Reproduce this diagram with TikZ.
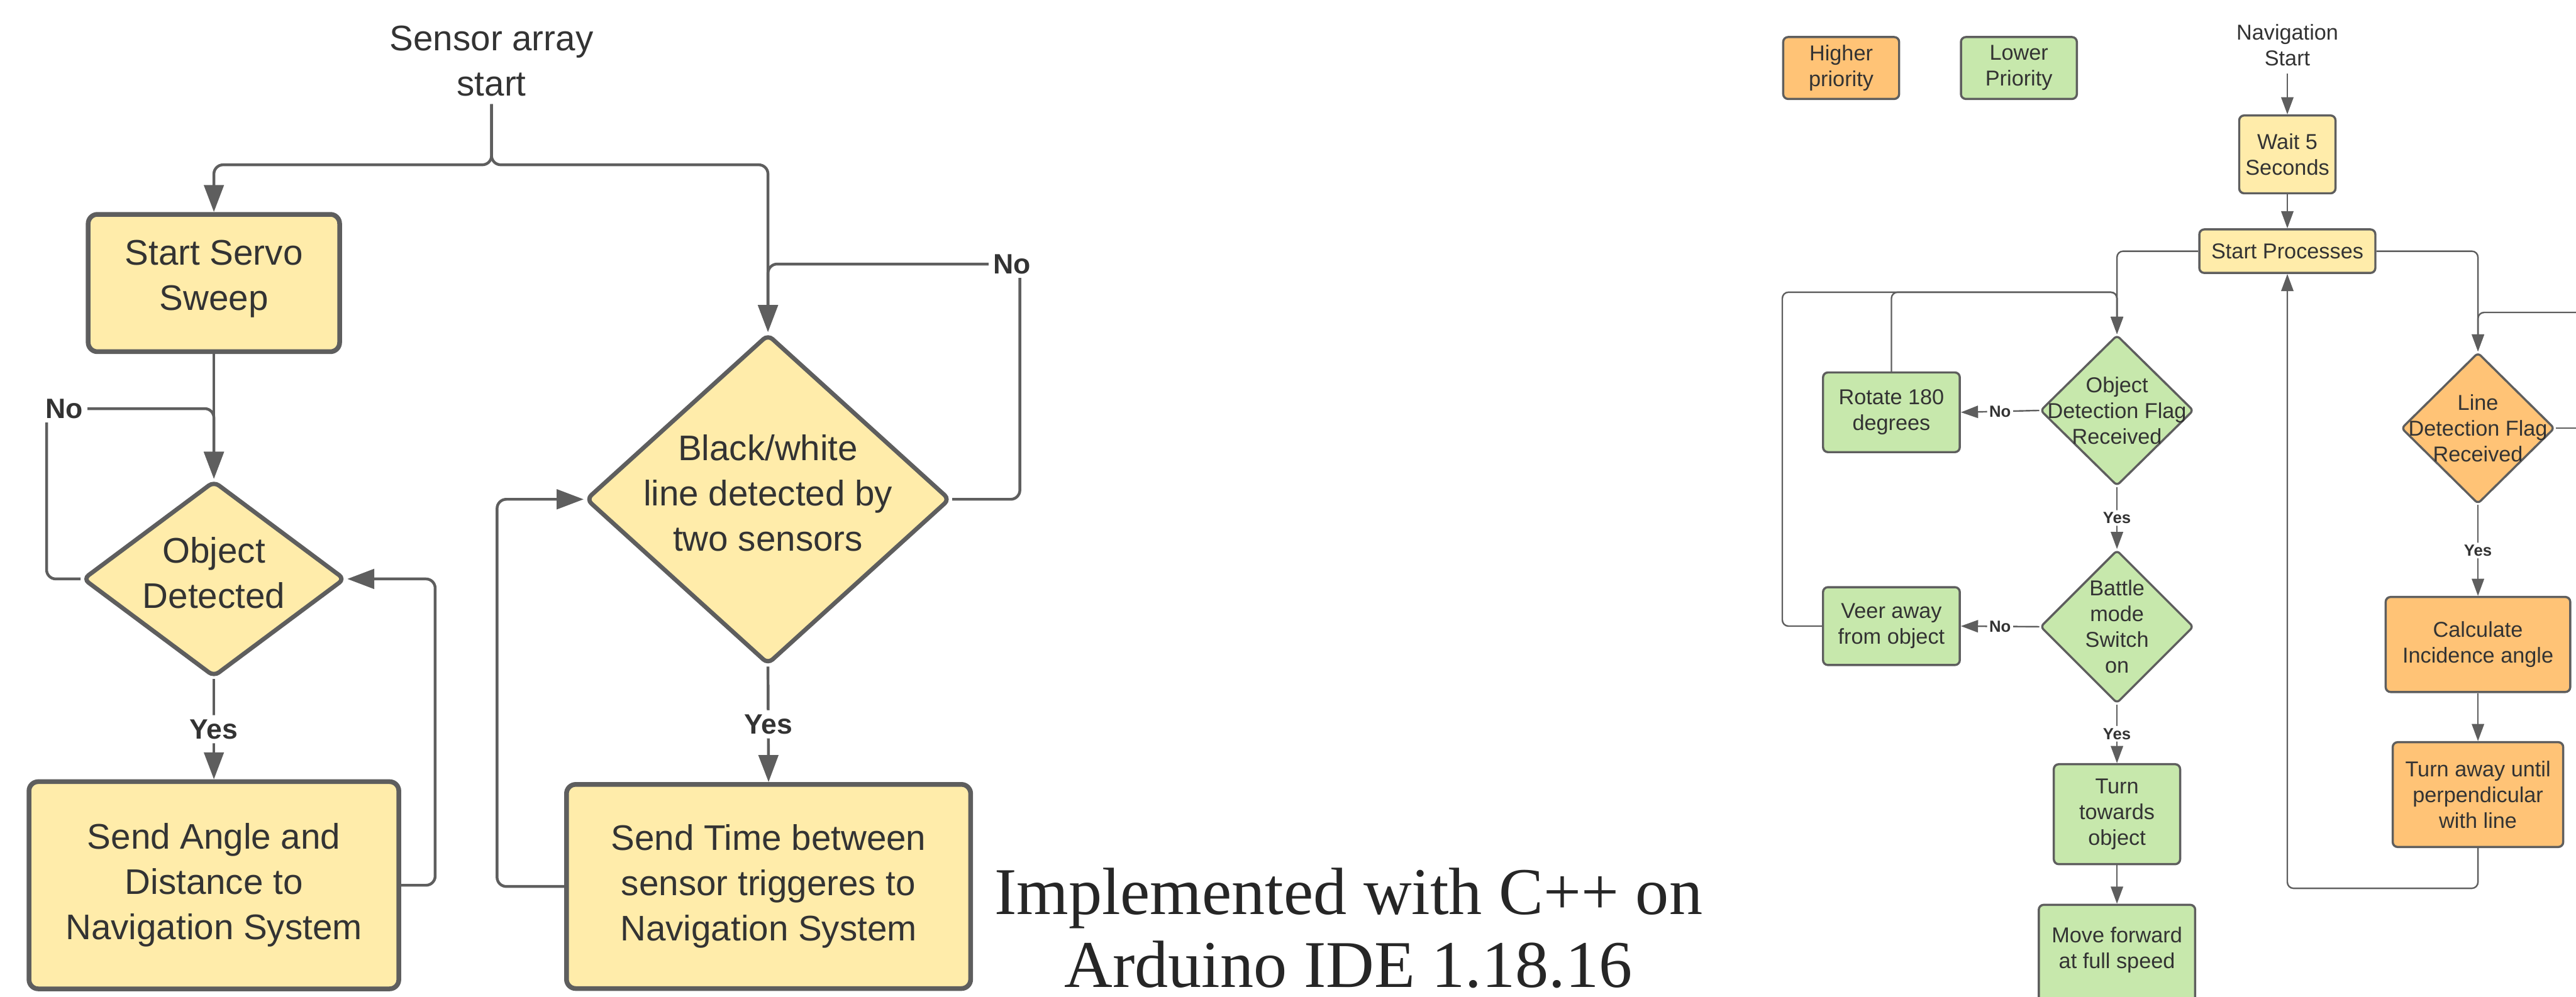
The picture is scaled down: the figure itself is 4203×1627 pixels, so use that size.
\documentclass[tikz,border=0pt]{standalone}
\usepackage{fontspec}
\setmainfont{Liberation Sans}
\newfontfamily\notefont{Liberation Serif}
\usetikzlibrary{shapes.geometric,arrows.meta}
\definecolor{lucyellow}{RGB}{255,236,170}
\definecolor{lucorange}{RGB}{255,195,118}
\definecolor{lucgreen}{RGB}{199,232,172}
\definecolor{lucline}{RGB}{94,94,94}
\definecolor{luctext}{RGB}{51,51,51}

\begin{document}
\begin{tikzpicture}[x=0.01cm,y=-0.01cm,
  ltext/.style={text=luctext,align=center,font=\fontsize{16.5}{21}\selectfont},
  lbox/.style={ltext,draw=lucline,line width=2.2pt,rounded corners=0.15cm,fill=lucyellow,inner sep=0pt},
  ldia/.style={diamond,draw=lucline,line width=2pt,rounded corners=0.1cm,fill=lucyellow,inner sep=0pt},
  lwire/.style={draw=lucline,line width=1.3pt,rounded corners=0.15cm},
  lflow/.style={lwire,-{Triangle[length=0.44cm,width=0.32cm]}},
  llab/.style={fill=white,text=luctext,inner sep=2pt,font=\bfseries\fontsize{13}{15}\selectfont},
  rtext/.style={text=luctext,align=center,font=\fontsize{10}{12}\selectfont},
  rbox/.style={rtext,draw=lucline,line width=1pt,rounded corners=0.08cm,inner sep=0pt},
  rdia/.style={diamond,draw=lucline,line width=1pt,rounded corners=0.06cm,inner sep=0pt},
  rwire/.style={draw=lucline,line width=0.7pt,rounded corners=0.1cm},
  rflow/.style={rwire,-{Triangle[length=0.28cm,width=0.2cm]}},
  rlab/.style={fill=white,text=luctext,inner sep=1pt,font=\bfseries\fontsize{7.5}{9}\selectfont}]
\useasboundingbox (0,0) rectangle (4203,1627);
\clip (0,0) rectangle (4203,1627);

% sensor array
\node[ltext] (sensstart) at (802,100) {Sensor array\\start};
\node[lbox,minimum width=4.1cm,minimum height=2.24cm,label={[ltext,yshift=0.07cm]center:Start Servo\\Sweep}] (servo) at (349,462) {};
\node[ldia,minimum width=4.28cm,minimum height=3.2cm,label={[ltext,yshift=0.1cm]center:Object\\Detected}] (objdet) at (349,945) {};
\node[lbox,minimum width=6.03cm,minimum height=3.38cm] (angle) at (349,1445) {Send Angle and\\Distance to\\Navigation System};
\node[ldia,minimum width=5.94cm,minimum height=5.39cm,label={[ltext,yshift=0.1cm]center:Black/white\\line detected by\\two sensors}] (bw) at (1253,815) {};
\node[lbox,minimum width=6.59cm,minimum height=3.33cm] (time) at (1254,1447) {Send Time between\\sensor triggeres to\\Navigation System};
\coordinate (fork) at (802,269);
\coordinate (objloop) at (76,667);
\coordinate (angleloop) at (710,945);
\coordinate (bwloop) at (1664,431);
\coordinate (timeloop) at (811,815);
\draw[lflow] (sensstart.south) -- (fork) -| (servo.north);
\draw[lflow] (sensstart.south) -- (fork) -| (bw.north);
\draw[lflow] (servo) -- (objdet);
\draw[lflow] (objdet.west) -| (objloop) -| (objdet.north);
\node[llab] (objno) at (105,667) {No};
\draw[lflow] (objdet.south) -- node[llab] (objyes) {Yes} (angle.north);
\draw[lflow] (angle.east) -| (angleloop) -- (objdet.east);
\draw[lflow] (bw.east) -| (bwloop) -| (bw.north);
\node[llab] (bwno) at (1651,431) {No};
\draw[lflow] (bw.south) -- node[llab] (bwyes) {Yes} (time.north);
\draw[lflow] (time.west) -| (timeloop) -- (bw.west);

\node[text=black!85,align=center,font=\notefont\fontsize{31}{34}\selectfont] (impl) at (2200,1515) {Implemented with C++ on\\Arduino IDE 1.18.16};

% navigation
\node[rbox,fill=lucorange,minimum width=1.89cm,minimum height=1.01cm] (higher) at (3004,111) {Higher\\priority};
\node[rbox,fill=lucgreen,minimum width=1.89cm,minimum height=1.01cm] (lower) at (3294,111) {Lower\\Priority};
\node[rtext] (navstart) at (3732,74) {Navigation\\Start};
\node[rbox,fill=lucyellow,minimum width=1.57cm,minimum height=1.27cm] (wait) at (3732,252) {Wait 5\\Seconds};
\node[rbox,fill=lucyellow,minimum width=2.87cm,minimum height=0.71cm] (procs) at (3732,410) {Start Processes};
\node[rdia,fill=lucgreen,minimum width=2.5cm,minimum height=2.46cm,label={[rtext]center:Object\\Detection Flag\\Received}] (objflag) at (3454,670) {};
\node[rbox,fill=lucgreen,minimum width=2.23cm,minimum height=1.3cm] (rotate) at (3086,673) {Rotate 180\\degrees};
\node[rdia,fill=lucgreen,minimum width=2.5cm,minimum height=2.5cm,label={[rtext]center:Battle\\mode\\Switch\\on}] (battle) at (3454,1023) {};
\node[rbox,fill=lucgreen,minimum width=2.23cm,minimum height=1.27cm] (veer) at (3086,1022) {Veer away\\from object};
\node[rbox,fill=lucgreen,minimum width=2.06cm,minimum height=1.63cm] (turn) at (3454,1329) {Turn\\towards\\object};
\node[rbox,fill=lucgreen,minimum width=2.55cm,minimum height=1.64cm,label={[rtext,yshift=0.08cm]center:Move forward\\at full speed}] (move) at (3454,1559) {};
\node[rdia,fill=lucorange,minimum width=2.5cm,minimum height=2.47cm,label={[rtext]center:Line\\Detection Flag\\Received}] (linef) at (4043,699) {};
\node[rbox,fill=lucorange,minimum width=3.01cm,minimum height=1.55cm] (calc) at (4043,1052) {Calculate\\Incidence angle};
\node[rbox,fill=lucorange,minimum width=2.78cm,minimum height=1.71cm] (turnaway) at (4043,1297) {Turn away until\\perpendicular\\with line};
\coordinate (objjoin) at (3454,477);
\coordinate (veerloop) at (2908,477);
\coordinate (backloop) at (3732,1450);
\coordinate (edgetop) at (4203,510);
\coordinate (edgeside) at (4203,699);
\draw[rflow] (navstart) -- (wait);
\draw[rflow] (wait) -- (procs);
\draw[rflow] (procs.west) -| (objflag.north);
\draw[rflow] (procs.east) -| (linef.north);
\draw[rflow] (rotate.north) |- (objjoin) -- (objflag.north);
\draw[rflow] (veer.west) -| (veerloop) -- (objjoin) -- (objflag.north);
\draw[rflow] (objflag.west) -- node[rlab] (objflagno) {No} (rotate.east);
\draw[rflow] (objflag.south) -- node[rlab] (objflagyes) {Yes} (battle.north);
\draw[rflow] (battle.west) -- node[rlab] (battleno) {No} (veer.east);
\draw[rflow] (battle.south) -- node[rlab] (battleyes) {Yes} (turn.north);
\draw[rflow] (turn) -- (move);
\draw[rflow] (edgetop) -| (linef.north);
\draw[rwire] (linef.east) -- (edgeside);
\draw[rflow] (linef.south) -- node[rlab] (lineyes) {Yes} (calc.north);
\draw[rflow] (calc) -- (turnaway);
\draw[rflow] (turnaway.south) |- (backloop) -- (procs.south);
\end{tikzpicture}
\end{document}
